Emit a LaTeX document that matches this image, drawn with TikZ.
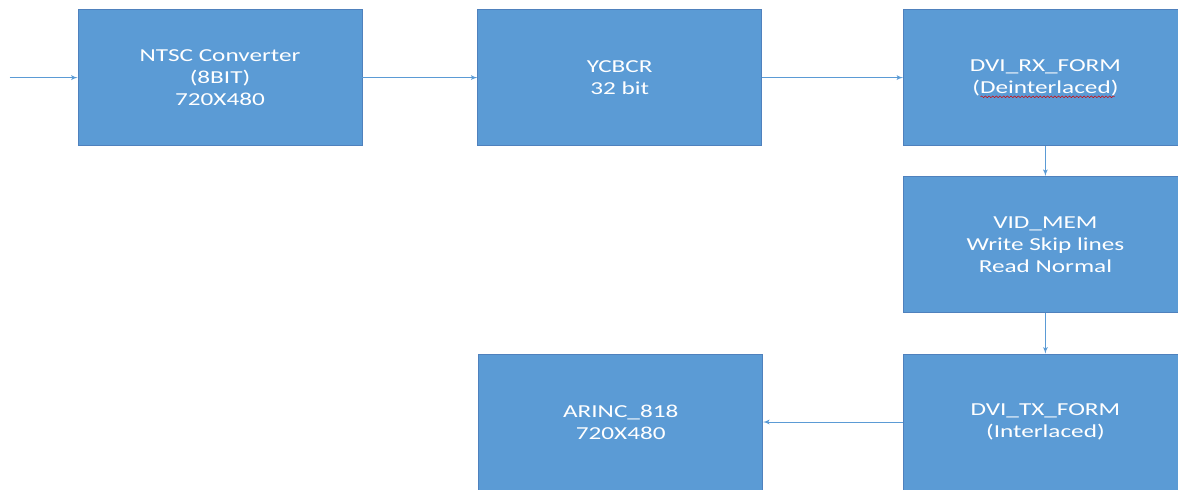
\documentclass[tikz,border=0pt]{standalone}
\usepackage{fontspec}
\setmainfont{Carlito}[FakeStretch=1.38]
\usepackage{tikz}
\usetikzlibrary{arrows,shapes,positioning,decorations.pathmorphing}
\definecolor{boxblue}{HTML}{5B9BD5}
\definecolor{boxline}{HTML}{4F81BD}
\tikzset{>=latex}
\tikzset{block/.style={rectangle, draw=boxline, line width=0.5pt, fill=boxblue,
  minimum width=7.1cm, minimum height=3.4cm, align=center, text=white,
  font=\fontsize{13}{15.6}\selectfont}}

\begin{document}
\begin{tikzpicture}[->,>=latex',every edge/.style={draw=boxblue, line width=0.6pt}]

 % page frame, same size as the original picture
 \useasboundingbox (0,0) rectangle (29.45,-12.225);

 % Block: NTSC converter (input side)
 \node[block] (NTSC) at (5.5,-1.94)
 {NTSC Converter\\(8BIT)\\720X480};

 % Block: colour space
 \node[block,
  right=2.875cm of NTSC] (YCBCR) 	% to the right of NTSC
 {YCBCR\\32 bit};

 % Block: receive formatter
 \node[block,
  right=3.525cm of YCBCR] (RXFORM) 	% last one in the top row
 {DVI\_RX\_FORM\\(Deinterlaced)};

 % Block: video memory
 \node[block,
  below=0.75cm of RXFORM] (VIDMEM)
 {VID\_MEM\\Write Skip lines\\Read Normal};

 % Block: transmit formatter
 \node[block,
  below=1.025cm of VIDMEM] (TXFORM)
 {DVI\_TX\_FORM\\(Interlaced)};

 % Block: output
 \node[block,
  left=3.5cm of TXFORM] (ARINC)
 {ARINC\_818\\720X480};

 % free end of the input line
 \coordinate[left=1.7cm of NTSC] (IN);

 % spell check squiggle under the word
 \draw[-, red!85!black, line width=0.35pt, decorate,
  decoration={snake, amplitude=0.6pt, segment length=2.6pt}]
  ([xshift=-1.62cm,yshift=-0.48cm]RXFORM.center) -- ++(3.35,0);

 % connectors
 \path (IN)     edge (NTSC)
 (NTSC)         edge (YCBCR)
 (YCBCR)        edge (RXFORM)
 (RXFORM)       edge (VIDMEM)
 (VIDMEM)       edge (TXFORM)
 (TXFORM)       edge (ARINC);

\end{tikzpicture}
\end{document}
